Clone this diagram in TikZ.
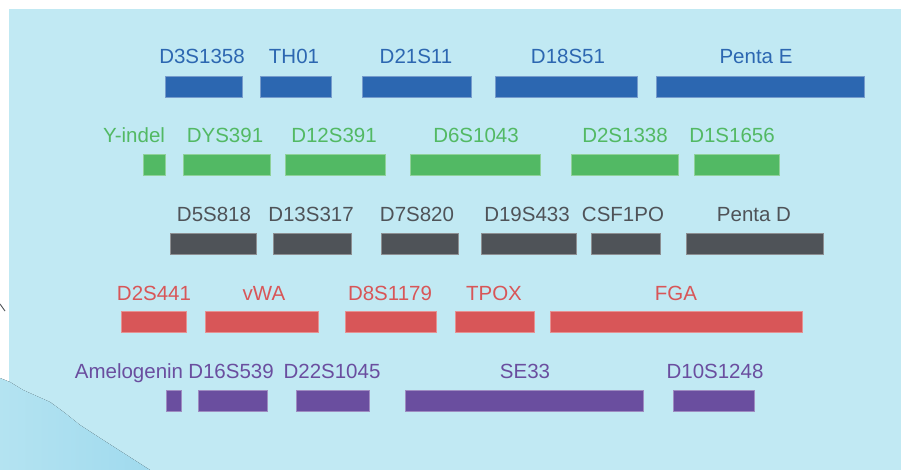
\documentclass[tikz,border=0pt]{standalone}
\usepackage{fontspec}
\setmainfont{Liberation Sans}
\usepackage{tikz}
\usetikzlibrary{calc,positioning}
\definecolor{panelbg}{HTML}{C1E9F3}
\definecolor{wavebg}{HTML}{A0DAEE}
\definecolor{rowblue}{HTML}{2C67B1}
\definecolor{rowgreen}{HTML}{52B964}
\definecolor{rowgray}{HTML}{4F5358}
\definecolor{rowred}{HTML}{D85658}
\definecolor{rowpurple}{HTML}{6A4E9F}
\tikzset{
    locus/.style={inner sep=0pt, anchor=base, font=\fontsize{20.5}{24}\selectfont},
    bar/.style={inner sep=0pt, outer sep=0pt, minimum height=21, draw=#1!65!white, line width=0.5pt, fill=#1}
}

\begin{document}
\begin{tikzpicture}[x=1pt,y=-1pt]
        \useasboundingbox (0,0) rectangle (901,470);
        \fill[white] (0,0) rectangle (901,470);
        \fill[panelbg] (9,9) rectangle (901,470);
        \fill[left color=panelbg!60!wavebg, right color=wavebg] (0,378) -- (10,382) -- (23,390) -- (50,402) -- (65,413)
            -- (80,425) -- (100,438) -- (125,454) -- (150,470) -- (0,470) -- cycle;
        \draw[rowgray,line width=0.9pt] (0,304)--(5,311);

        % row 1
        \foreach \l/\r/\tx/\name [count=\i] in {165/242/202/D3S1358,260/331/294/TH01,362/471/416/D21S11,495/637/568/D18S51,656/864/756/Penta E}{
            \node[bar=rowblue, minimum width=\r-\l] (b1-\i) at ({(\l+\r)/2},86.5) {};
            \node[locus, text=rowblue] (l1-\i) at (\tx,64) {\name};
        }
        % row 2
        \foreach \l/\r/\tx/\name [count=\i] in {143/165/134/Y-indel,183/270/225/DYS391,285/385/334/D12S391,410/540/476/D6S1043,571/678/625/D2S1338,694/779/732/D1S1656}{
            \node[bar=rowgreen, minimum width=\r-\l] (b2-\i) at ({(\l+\r)/2},165) {};
            \node[locus, text=rowgreen] (l2-\i) at (\tx,143) {\name};
        }
        % row 3
        \foreach \l/\r/\tx/\name [count=\i] in {170/256/214/D5S818,273/351/311/D13S317,381/458/417/D7S820,481/576/527/D19S433,591/660/623/CSF1PO,686/823/754/Penta D}{
            \node[bar=rowgray, minimum width=\r-\l] (b3-\i) at ({(\l+\r)/2},243.5) {};
            \node[locus, text=rowgray] (l3-\i) at (\tx,222) {\name};
        }
        % row 4
        \foreach \l/\r/\tx/\name [count=\i] in {121/186/154/D2S441,205/318/264/vWA,345/436/390/D8S1179,455/534/494/TPOX,550/802/676/FGA}{
            \node[bar=rowred, minimum width=\r-\l] (b4-\i) at ({(\l+\r)/2},322) {};
            \node[locus, text=rowred] (l4-\i) at (\tx,300) {\name};
        }
        % row 5
        \foreach \l/\r/\tx/\name [count=\i] in {166/181/129/Amelogenin,198/267/231/D16S539,296/369/332/D22S1045,405/643/525/SE33,673/754/715/D10S1248}{
            \node[bar=rowpurple, minimum width=\r-\l] (b5-\i) at ({(\l+\r)/2},401) {};
            \node[locus, text=rowpurple] (l5-\i) at (\tx,378) {\name};
        }
    \end{tikzpicture}
\end{document}
